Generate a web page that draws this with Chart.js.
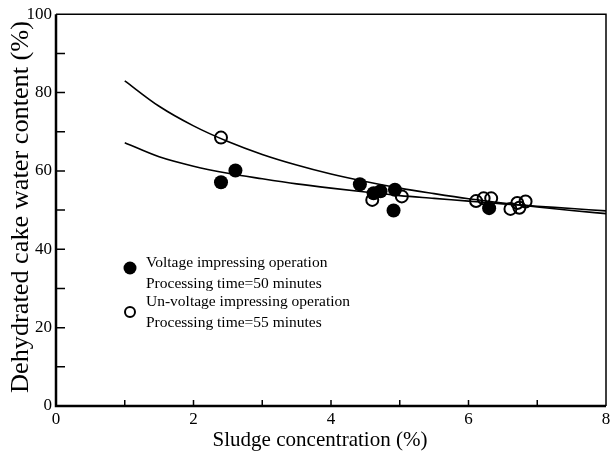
<!DOCTYPE html>
<html>
<head>
<meta charset="utf-8">
<script src="https://cdn.jsdelivr.net/npm/chart.js@4/dist/chart.umd.min.js"></script>
<style>
  html, body { margin: 0; padding: 0; background: #fff; }
  #wrap { width: 614px; height: 456px; }
</style>
</head>
<body>
<div id="wrap"><canvas id="chart" width="614" height="456"></canvas></div>
<script>
// ---- data ----
const filledX = [2.40, 2.61, 4.42, 4.62, 4.72, 4.93, 4.91, 6.30];
const filledY = [57.1, 60.1, 56.6, 54.3, 54.8, 55.2, 49.9, 50.5];

const openX = [2.40, 4.60, 5.03, 6.11, 6.22, 6.33, 6.61, 6.71, 6.74, 6.83];
const openY = [68.5, 52.6, 53.5, 52.3, 53.0, 53.0, 50.3, 51.8, 50.6, 52.2];

// fitted curves
const curveX = [1, 1.5, 2, 2.5, 3, 3.5, 4, 4.5, 5, 5.5, 6, 6.5, 7, 7.5, 8];
const upperY = [83, 76.5, 71.5, 67.5, 64.2, 61.5, 59.2, 57.3, 55.6, 54.2, 52.9, 51.8, 50.8, 49.9, 49.1];
const lowerY = [67.2, 63.6, 61.2, 59.4, 58.0, 56.7, 55.6, 54.6, 53.7, 53.0, 52.3, 51.6, 51.0, 50.4, 49.8];

const xTicks = [0, 2, 4, 6, 8];
const yTicks = [0, 20, 40, 60, 80, 100];

const xTitle = "Sludge concentration (%)";
const yTitle = "Dehydrated cake water content (%)";

const legendLines = [
  "Voltage impressing operation",
  "Processing time=50 minutes",
  "Un-voltage impressing operation",
  "Processing time=55 minutes"
];

const SERIF = "'Liberation Serif', 'DejaVu Serif', serif";

function toXY(xs, ys) {
  return xs.map((x, i) => ({ x: x, y: ys[i] }));
}

// draw text squeezed/stretched to a given length (scan font is narrower)
function fitText(ctx, text, cx, cy, len, rot) {
  const w = ctx.measureText(text).width;
  ctx.save();
  ctx.translate(cx, cy);
  ctx.rotate(rot);
  ctx.scale(len / w, 1);
  ctx.textAlign = "center";
  ctx.textBaseline = "middle";
  ctx.fillText(text, 0, 0);
  ctx.restore();
}

// frame, inward ticks, axis titles and legend
const framePlugin = {
  id: "frame",
  afterDraw(chart) {
    const ctx = chart.ctx;
    const a = chart.chartArea;
    const xs = chart.scales.x;
    const ys = chart.scales.y;
    ctx.save();
    ctx.strokeStyle = "#000";
    ctx.fillStyle = "#000";
    // top + right (thinner)
    ctx.lineWidth = 1.5;
    ctx.beginPath();
    ctx.moveTo(a.left, a.top);
    ctx.lineTo(a.right, a.top);
    ctx.lineTo(a.right, a.bottom);
    ctx.stroke();
    // left + bottom (heavier)
    ctx.lineWidth = 2.5;
    ctx.beginPath();
    ctx.moveTo(a.left, a.top);
    ctx.lineTo(a.left, a.bottom);
    ctx.lineTo(a.right, a.bottom);
    ctx.stroke();
    // inward ticks
    ctx.lineWidth = 1.5;
    ctx.beginPath();
    for (let v = 1; v < 8; v++) {
      const px = xs.getPixelForValue(v);
      ctx.moveTo(px, a.bottom);
      ctx.lineTo(px, a.bottom - 6);
    }
    for (let v = 10; v < 100; v += 10) {
      const py = ys.getPixelForValue(v);
      ctx.moveTo(a.left, py);
      ctx.lineTo(a.left + 9, py);
    }
    ctx.stroke();

    // axis titles
    ctx.font = "21px " + SERIF;
    fitText(ctx, xTitle, 320, 440, 215, 0);
    ctx.font = "25px " + SERIF;
    fitText(ctx, yTitle, 21, 207, 372, -Math.PI / 2);

    // legend
    const lx = 130;
    ctx.beginPath();
    ctx.arc(lx, 268, 6.5, 0, Math.PI * 2);
    ctx.fill();
    ctx.lineWidth = 2;
    ctx.beginPath();
    ctx.arc(lx, 312, 5, 0, Math.PI * 2);
    ctx.stroke();
    ctx.font = "15.5px " + SERIF;
    ctx.textBaseline = "middle";
    ctx.textAlign = "left";
    const ly = [263, 284, 302, 323];
    legendLines.forEach((t, i) => ctx.fillText(t, 146, ly[i]));
    ctx.restore();
  }
};

const ctx = document.getElementById("chart").getContext("2d");
new Chart(ctx, {
  type: "scatter",
  data: {
    datasets: [
      {
        type: "line",
        data: toXY(curveX, upperY),
        borderColor: "#000",
        borderWidth: 1.6,
        pointRadius: 0,
        cubicInterpolationMode: "monotone",
        fill: false
      },
      {
        type: "line",
        data: toXY(curveX, lowerY),
        borderColor: "#000",
        borderWidth: 1.6,
        pointRadius: 0,
        cubicInterpolationMode: "monotone",
        fill: false
      },
      {
        data: toXY(openX, openY),
        pointRadius: 6,
        pointBorderWidth: 2,
        pointBackgroundColor: "rgba(255,255,255,0)",
        pointBorderColor: "#000"
      },
      {
        data: toXY(filledX, filledY),
        pointRadius: 7,
        pointBorderWidth: 0,
        pointBackgroundColor: "#000",
        pointBorderColor: "#000"
      }
    ]
  },
  options: {
    responsive: false,
    animation: false,
    layout: { padding: { left: 0, right: 4, top: 11, bottom: 0 } },
    plugins: {
      legend: { display: false },
      tooltip: { enabled: false }
    },
    scales: {
      x: {
        type: "linear",
        min: 0,
        max: 8,
        afterBuildTicks(scale) {
          scale.ticks = xTicks.map(v => ({ value: v }));
        },
        afterFit(scale) { scale.height = 50; },
        grid: { display: false, drawTicks: false },
        border: { display: false },
        ticks: {
          color: "#000",
          padding: 3,
          maxRotation: 0,
          font: { family: SERIF, size: 17 }
        },
        title: { display: false }
      },
      y: {
        min: 0,
        max: 100,
        afterBuildTicks(scale) {
          scale.ticks = yTicks.map(v => ({ value: v }));
        },
        afterFit(scale) { scale.width = 56; },
        grid: { display: false, drawTicks: false },
        border: { display: false },
        ticks: {
          color: "#000",
          padding: 4,
          font: { family: SERIF, size: 17 }
        },
        title: { display: false }
      }
    }
  },
  plugins: [framePlugin]
});
</script>
</body>
</html>
